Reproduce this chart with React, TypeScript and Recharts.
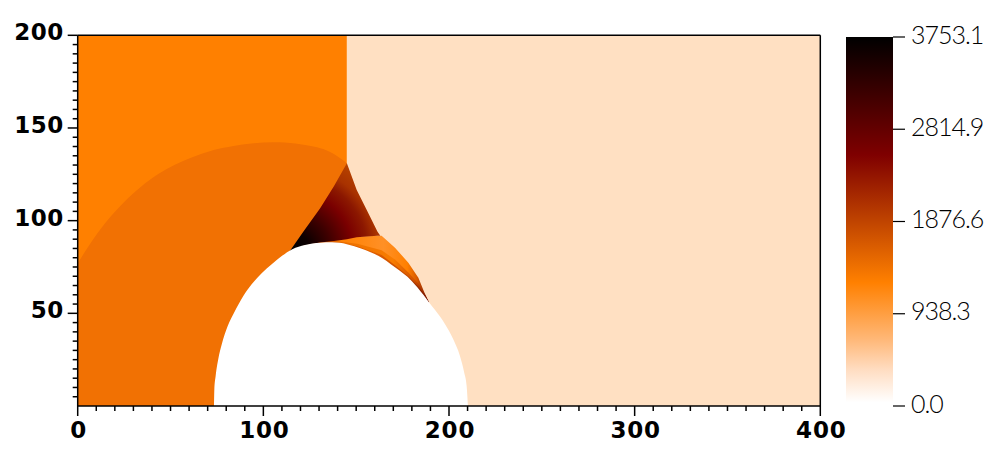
import React from 'react';
import { ComposedChart, Area, XAxis, YAxis } from 'recharts';

const xTicks = [0,10,20,30,40,50,60,70,80,90,100,110,120,130,140,150,160,170,180,190,200,210,220,230,240,250,260,270,280,290,300,310,320,330,340,350,360,370,380,390,400];
const yTicks = [5,10,15,20,25,30,35,40,45,50,55,60,65,70,75,80,85,90,95,100,105,110,115,120,125,130,135,140,145,150,155,160,165,170,175,180,185,190,195,200];
const legendTicks = [0, 938.3, 1876.6, 2814.9, 3753.1];

const leftX = [0, 145];
const leftY = [200, 200];
const rightX = [145, 400];
const rightY = [200, 200];

const postShockX = [0, 14, 32, 50, 68, 82.5, 105, 127, 138, 145];
const postShockY = [77, 97.7, 116.6, 129, 136.5, 140, 142.3, 140, 136, 131];

const wedgeX = [114, 121.5, 130.5, 138, 145, 150.3, 155.7, 161.5, 163];
const wedgeTop = [83.2, 94, 106.5, 118.5, 131, 116.6, 105.8, 94, 91.8];
const wedgeLow = [83, 86.5, 88.2, 89, 90, 91, 91.5, 91.8, 91.8];

const crescentX = [125, 138, 150.6, 163.7, 170.9, 178.1, 183.5, 187, 189];
const crescentOuter = [87.5, 89.5, 91.5, 91.8, 85.4, 77.3, 69.2, 60.6, 56.4];
const crescentMid = [87.5, 89, 87.5, 84, 79, 72, 66, 60.4, 56.4];
const crescentInner = [87.5, 88.5, 86.2, 81.5, 76, 70, 64.5, 60, 56.4];

const bodyX = [73.4, 73.6, 74.3, 75.7, 77.6, 80.8, 84.7, 89.2, 93.7, 99.1, 104.5, 109.9, 115.6, 122.4, 130.5, 137, 145, 153, 161.9, 170.9, 179.9, 186.2, 189, 192.5, 197.8, 202.3, 205.9, 208.2, 209.5, 210.2];
const bodyY = [0, 9, 16.2, 25.2, 33.3, 43.2, 51.3, 59.4, 65.7, 71.6, 76.5, 80.9, 84.6, 86.9, 88.1, 88.3, 87.3, 84.9, 81, 74.8, 67.5, 60, 56.3, 51.8, 44.3, 36, 27, 18, 10.8, 0];

const barX = [0, 1];
const barTop = [3753.1, 3753.1];

const rows = (xs: number[], hi: number[], lo?: number[]) =>
  xs.map((x, i) => ({ x, range: [lo ? lo[i] : 0, hi[i]] }));

const BoldFont = '"DejaVu Sans", sans-serif';

const XTick = (props: any) => {
  const { x, y, payload } = props;
  const major = payload.value % 100 === 0;
  return (
    <g>
      <line x1={x} x2={x} y1={y} y2={y + (major ? 10 : 5)} stroke="#000" strokeWidth={1.5} />
      {major && (
        <text x={x + 1} y={y + 32} textAnchor="middle" fontFamily={BoldFont} fontWeight={700} fontSize={23} letterSpacing={0.8} fill="#000">
          {payload.value}
        </text>
      )}
    </g>
  );
};

const YTick = (props: any) => {
  const { x, y, payload } = props;
  const major = payload.value % 50 === 0;
  return (
    <g>
      <line x1={x} x2={x - (major ? 10 : 5)} y1={y} y2={y} stroke="#000" strokeWidth={1.5} />
      {major && (
        <text x={x - 14} y={y + 5} textAnchor="end" fontFamily={BoldFont} fontWeight={700} fontSize={23} letterSpacing={0.5} fill="#000">
          {payload.value}
        </text>
      )}
    </g>
  );
};

const LegendTick = (props: any) => {
  const { x, y, payload } = props;
  return (
    <g>
      <line x1={x} x2={x + 12} y1={y} y2={y} stroke="#000" strokeWidth={1.2} />
      <text x={x + 18} y={y + 6.5} textAnchor="start" fontFamily="Lato, sans-serif" fontWeight={300} fontSize={25} letterSpacing={-1} fill="#000">
        {payload.value.toFixed(1)}
      </text>
    </g>
  );
};

const common = { isAnimationActive: false, stroke: 'none', dot: false, activeDot: false, dataKey: 'range', legendType: 'none' as const };

export default function App() {
  return (
    <div style={{ position: 'absolute', left: 0, top: 0, width: 1000, height: 454, background: '#fff' }}>
      <div style={{ position: 'absolute', left: 0, top: 0 }}>
        <ComposedChart width={1000} height={454} margin={{ top: 34.3, right: 178.7, bottom: 0, left: 0 }}>
          <defs>
            <radialGradient id="wedgeFill" cx="0.03" cy="0.98" r="1.15" fx="0.03" fy="0.98">
              <stop offset="0" stopColor="#000000" />
              <stop offset="0.17" stopColor="#0c0000" />
              <stop offset="0.36" stopColor="#3c0000" />
              <stop offset="0.58" stopColor="#7a0000" />
              <stop offset="0.72" stopColor="#8c1800" />
              <stop offset="0.82" stopColor="#a83200" />
              <stop offset="1" stopColor="#b84400" />
            </radialGradient>
            <linearGradient id="crescentFill" x1="0" y1="0" x2="1" y2="0">
              <stop offset="0" stopColor="#e06000" />
              <stop offset="0.3" stopColor="#ff8205" />
              <stop offset="0.62" stopColor="#ff9026" />
              <stop offset="0.82" stopColor="#ff8000" />
              <stop offset="0.9" stopColor="#d85a00" />
              <stop offset="0.96" stopColor="#a03000" />
              <stop offset="1" stopColor="#700000" />
            </linearGradient>
            <linearGradient id="midFill" x1="0" y1="0" x2="1" y2="0">
              <stop offset="0" stopColor="#d05400" />
              <stop offset="0.4" stopColor="#f07400" />
              <stop offset="0.7" stopColor="#f87c00" />
              <stop offset="0.88" stopColor="#d05000" />
              <stop offset="1" stopColor="#801800" />
            </linearGradient>
            <linearGradient id="innerFill" x1="0" y1="0" x2="1" y2="0">
              <stop offset="0" stopColor="#c04800" />
              <stop offset="0.5" stopColor="#e26000" />
              <stop offset="0.8" stopColor="#c84c00" />
              <stop offset="1" stopColor="#701000" />
            </linearGradient>
          </defs>

          <Area {...common} data={rows(leftX, leftY)} type="linear" fill="#ff8000" fillOpacity={1} />
          <Area {...common} data={rows(rightX, rightY)} type="linear" fill="#ffe0c2" fillOpacity={1} />
          <Area {...common} data={rows(postShockX, postShockY)} type="natural" fill="#f17103" fillOpacity={1} />
          <Area {...common} data={rows(crescentX, crescentOuter)} type="linear" fill="url(#crescentFill)" fillOpacity={1} />
          <Area {...common} data={rows(crescentX, crescentMid)} type="linear" fill="url(#midFill)" fillOpacity={1} />
          <Area {...common} data={rows(crescentX, crescentInner)} type="linear" fill="url(#innerFill)" fillOpacity={1} />
          <Area {...common} data={rows(wedgeX, wedgeTop, wedgeLow)} type="linear" fill="url(#wedgeFill)" fillOpacity={1} />
          <Area {...common} data={rows(bodyX, bodyY)} type="monotone" fill="#ffffff" fillOpacity={1} />

          <XAxis dataKey="x" type="number" domain={[0, 400]} ticks={xTicks} interval={0} height={48} tickLine={false} tickSize={0} tickMargin={0} axisLine={{ stroke: '#000', strokeWidth: 1.5 }} tick={<XTick />} allowDataOverflow />
          <YAxis type="number" domain={[0, 200]} ticks={yTicks} interval={0} width={77.7} tickLine={false} tickSize={0} tickMargin={0} axisLine={{ stroke: '#000', strokeWidth: 1.5 }} tick={<YTick />} allowDataOverflow />
          <XAxis xAxisId="top" orientation="top" type="number" domain={[0, 400]} height={1} tick={false} tickLine={false} axisLine={{ stroke: '#000', strokeWidth: 1.5 }} />
          <YAxis yAxisId="right" orientation="right" type="number" domain={[0, 200]} width={1} tick={false} tickLine={false} axisLine={{ stroke: '#000', strokeWidth: 1.5 }} />
        </ComposedChart>
      </div>
      <div style={{ position: 'absolute', left: 0, top: 0 }}>
        <ComposedChart width={1000} height={454} margin={{ top: 37, right: 106, bottom: 48, left: 846 }}>
          <defs>
            <linearGradient id="barFill" x1="0" y1="0" x2="0" y2="1">
              <stop offset="0" stopColor="#000000" />
              <stop offset="0.32" stopColor="#7f0000" />
              <stop offset="0.5" stopColor="#c04400" />
              <stop offset="0.665" stopColor="#ff8000" />
              <stop offset="0.82" stopColor="#ffb878" />
              <stop offset="0.9" stopColor="#ffdcc0" />
              <stop offset="0.99" stopColor="#ffffff" />
            </linearGradient>
          </defs>
          <Area isAnimationActive={false} data={barX.map((x, i) => ({ x, v: barTop[i] }))} dataKey="v" type="linear" stroke="none" dot={false} activeDot={false} fill="url(#barFill)" fillOpacity={1} />
          <XAxis dataKey="x" type="number" domain={[0, 1]} hide />
          <YAxis orientation="right" type="number" domain={[0, 3753.1]} ticks={legendTicks} interval={0} width={1} axisLine={false} tickLine={false} tickSize={0} tickMargin={0} tick={<LegendTick />} allowDataOverflow />
        </ComposedChart>
      </div>
    </div>
  );
}
